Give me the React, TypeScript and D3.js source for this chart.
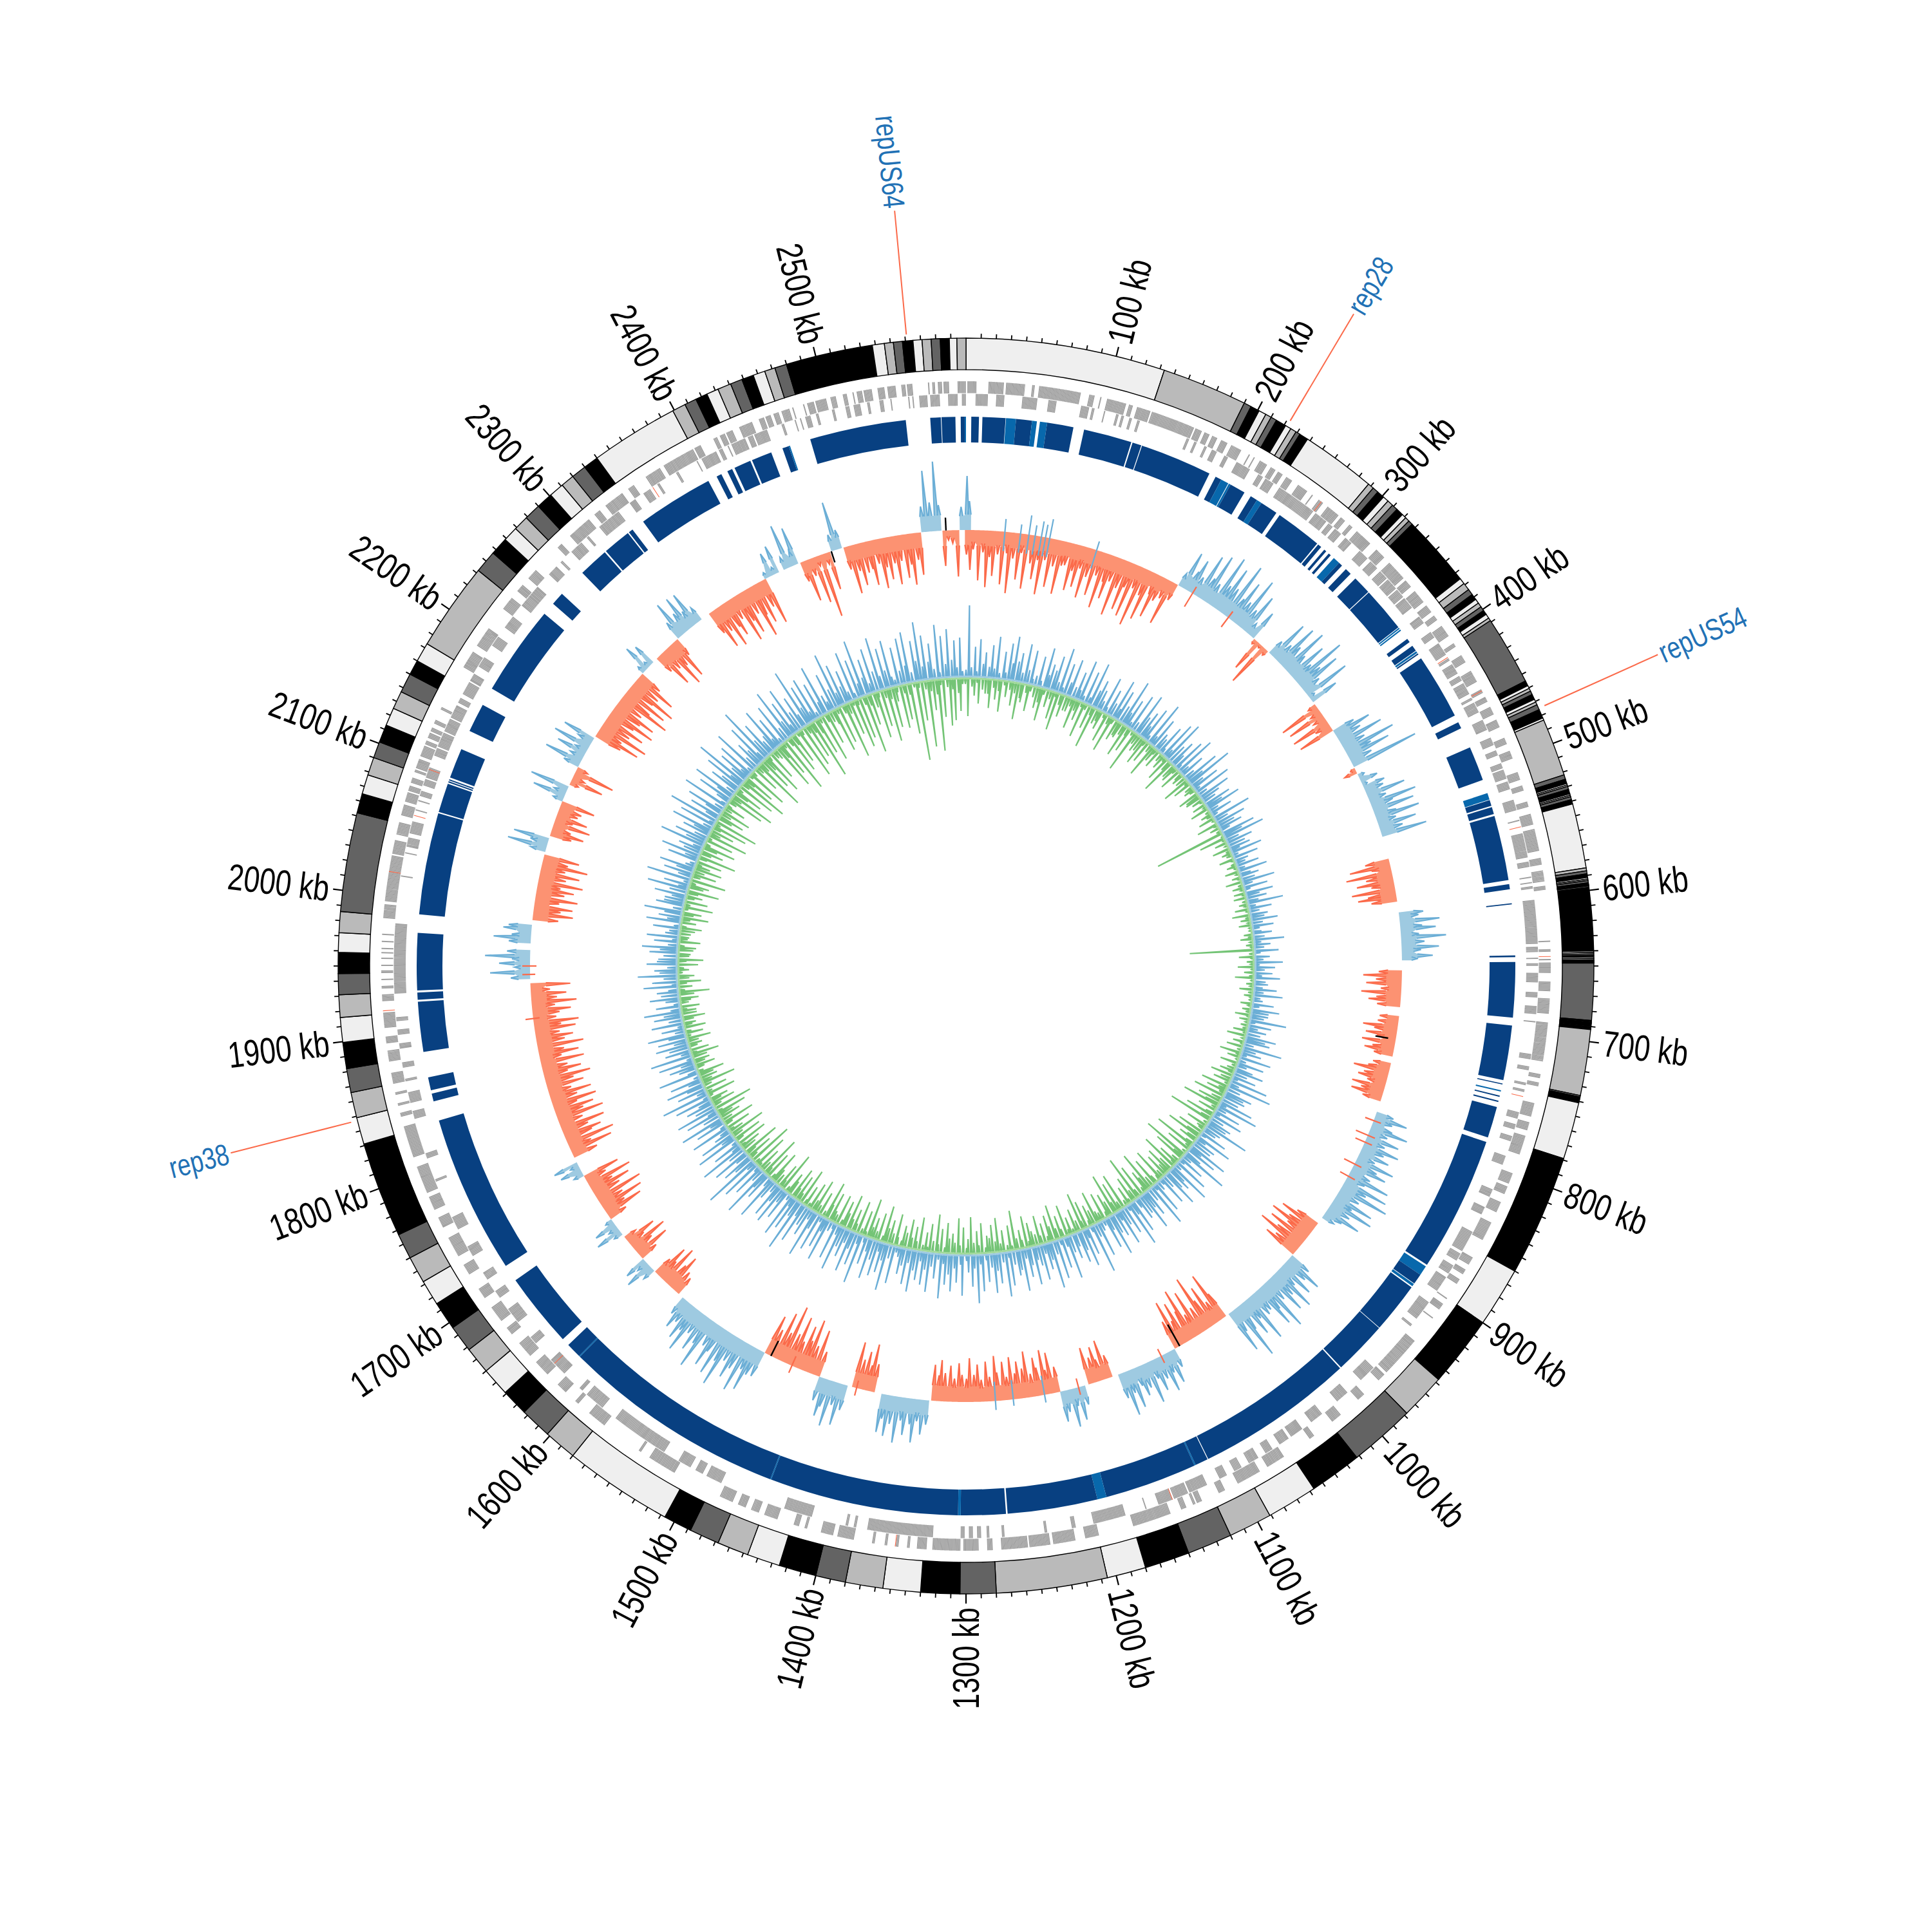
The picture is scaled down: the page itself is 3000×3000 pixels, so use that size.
import React from "react";
import * as d3 from "d3";

const genomeKb = 2600;
const binKb = 4;
const cx = 1500;
const cy = 1500;

const majorLabels = [100, 200, 300, 400, 500, 600, 700, 800, 900, 1000, 1100, 1200, 1300, 1400, 1500, 1600, 1700, 1800, 1900, 2000, 2100, 2200, 2300, 2400, 2500];
const repNames = ["repUS64", "rep28", "repUS54", "rep38"];
const repKb = [2561, 222, 475, 1847];
const contigShades = ["#efefef", "#bababa", "#636363", "#000000"];

// contig starts in kb, the shade cycles every four
const contigStarts = [
  0, 133, 190, 195,
  201, 206, 210, 214,
  221, 225, 229, 232,
  238, 288, 292, 296,
  301, 305, 309, 313,
  318, 321, 324, 327,
  375, 379, 384, 388,
  392, 395, 398, 401,
  404, 407, 409, 455,
  458.5, 460.5, 462.5, 465,
  468.5, 470.5, 472.5, 476,
  482, 483.5, 522, 525,
  528, 529, 530, 532,
  535, 536, 537, 539,
  542, 585, 587, 589,
  591.5, 592.5, 593.5, 595,
  596, 596.5, 597, 598,
  640, 641, 642, 643,
  644, 645, 646, 646.5,
  647, 647.5, 648, 686,
  687, 687.5, 688, 688.5,
  689.5, 690, 690.5, 691,
  691.7, 692, 736, 737,
  738, 738.5, 739, 739.5,
  741, 779, 779.5, 780,
  860, 900, 900.5, 901,
  947, 947.5, 978, 1022,
  1057, 1091, 1120, 1150,
  1180, 1206, 1280, 1304,
  1330, 1355, 1380, 1400,
  1425, 1447, 1468, 1488,
  1507, 1580, 1602, 1623,
  1641, 1660, 1678, 1696,
  1715, 1732, 1750, 1767,
  1831, 1849, 1866, 1882,
  1899.5, 1916, 1931, 1945,
  1959, 1972, 1986, 2052,
  2065, 2078, 2090, 2101,
  2113, 2125, 2137, 2150,
  2160, 2173, 2232, 2247,
  2259, 2269, 2279, 2290,
  2301, 2311, 2320, 2330,
  2340, 2399, 2408, 2416,
  2424, 2432, 2441, 2449,
  2457, 2465, 2472, 2480,
  2538, 2546, 2552, 2558,
  2565, 2571, 2577, 2583,
  2589, 2594,
];

const genesOuter = [
  [1, 7.5], [16, 27], [28.5, 42], [47, 49], [52, 82], [88, 92], [96, 97], [101, 115], [117, 120], [123, 133], [134, 166], [167, 172], [174, 178], [180, 184], [187, 192], [195, 203], [209, 210], [213, 214], [218, 224], [227, 231], [233, 237], [240, 245], [250, 258], [262, 263], [268, 272], [276, 286], [288, 292], [296, 299], [303, 316], [322, 330], [335, 350], [352, 358], [362, 372], [375, 381], [384, 388], [393, 402], [408, 411], [418, 424], [431, 440], [446, 449], [452, 456], [460, 466], [470, 476], [484, 489], [494, 500], [510, 516], [520, 524], [532, 536], [541, 549], [552, 568], [573, 578], [582, 590], [593, 596], [632, 633], [638, 640], [645, 646], [647.5, 655], [661, 668], [673, 684], [690, 718], [727, 730], [733, 736], [748, 758], [762, 768], [772, 786], [800, 808], [810, 816], [822, 830], [838, 852], [866, 872], [876, 880], [884, 888], [900, 901], [905, 910], [917, 918], [938, 968], [970, 976], [990, 996], [1012, 1020], [1036, 1040], [1062, 1076], [1082, 1100], [1110, 1115], [1128, 1132], [1133, 1135], [1140, 1144], [1152, 1180], [1205, 1215], [1222, 1238], [1240, 1255], [1256, 1275], [1281, 1285], [1291, 1302], [1304, 1324], [1328, 1335], [1340, 1342], [1348, 1350], [1356, 1358], [1365, 1367], [1380, 1392], [1395, 1404], [1414, 1416], [1420, 1424], [1436, 1446], [1450, 1456], [1460, 1466], [1470, 1480], [1516, 1537], [1544, 1546], [1576, 1590], [1600, 1603], [1612, 1620], [1630, 1642], [1648, 1660], [1668, 1674], [1680, 1692], [1700, 1708], [1720, 1728], [1735, 1750], [1758, 1766], [1772, 1782], [1785, 1805], [1812, 1835], [1842, 1845], [1850, 1852], [1858, 1860], [1866, 1874], [1882, 1890], [1895, 1900], [1906, 1917], [1925, 1930], [1934, 1936], [1940, 1941], [1945, 1947], [1950, 1951], [1955, 1956], [1959, 1960], [1962, 1963], [1967, 1968], [1972, 1973], [1984, 1994], [1996, 2029], [2030, 2040], [2044, 2053], [2058, 2066], [2068, 2075], [2076, 2080], [2082, 2086], [2090, 2092], [2093, 2100], [2102, 2110], [2111, 2114], [2116, 2120], [2121, 2124], [2127, 2130], [2138, 2140], [2172, 2185], [2190, 2205], [2222, 2232], [2238, 2244], [2250, 2258], [2280, 2284], [2292, 2310], [2315, 2320], [2325, 2340], [2345, 2350], [2360, 2372], [2375, 2399], [2400, 2405], [2415, 2418], [2420, 2424], [2425, 2430], [2435, 2445], [2450, 2454], [2455, 2459], [2461, 2465], [2467, 2473], [2475, 2476], [2483, 2484], [2486, 2491], [2492, 2500], [2503, 2507], [2512, 2515], [2519, 2520], [2522, 2526], [2527, 2533], [2537, 2542], [2544, 2550], [2554, 2557], [2558, 2562], [2573, 2574], [2576, 2578], [2580, 2583], [2584, 2588], [2594, 2600],
];

const genesInner = [
  [7, 16], [22, 28], [41, 52], [60, 66], [84, 90], [92, 94], [101, 102], [110, 112], [114, 116], [120, 122], [126, 128], [164, 166], [170, 172], [178, 180], [184, 188], [194, 197], [204, 215], [222, 226], [228, 235], [240, 252], [252, 262], [262, 270], [272, 282], [284, 288], [290, 296], [300, 306], [314, 322], [325, 332], [335, 342], [343, 352], [353, 360], [361, 370], [378, 384], [392, 397], [402, 412], [415, 417], [420, 428], [430, 434], [436, 445], [448, 450], [452, 460], [466, 474], [480, 486], [490, 494], [500, 504], [505, 512], [514, 520], [528, 536], [543, 544], [553, 571], [574, 578], [585, 586], [589, 590], [592, 594], [602, 634], [636, 640], [644, 645], [648, 650], [655, 662], [669, 673], [679, 685], [690, 691], [714, 718], [723, 726], [735, 737], [740, 742], [757, 762], [766, 770], [775, 779], [790, 797], [816, 822], [830, 836], [850, 866], [868, 874], [878, 885], [888, 900], [910, 925], [930, 932], [972, 985], [998, 1008], [1022, 1032], [1040, 1050], [1052, 1060], [1066, 1072], [1078, 1086], [1092, 1098], [1104, 1110], [1120, 1134], [1135, 1146], [1147, 1158], [1167, 1168], [1183, 1207], [1220, 1223], [1241, 1243], [1272, 1274], [1283, 1285], [1289, 1292], [1295, 1298], [1301, 1304], [1324, 1372], [1380, 1382], [1386, 1388], [1413, 1434], [1483, 1495], [1498, 1504], [1508, 1518], [1530, 1573], [1585, 1600], [1604, 1607], [1622, 1636], [1652, 1658], [1672, 1684], [1694, 1700], [1710, 1716], [1730, 1738], [1752, 1762], [1790, 1792], [1808, 1812], [1838, 1844], [1850, 1858], [1866, 1868], [1876, 1880], [1890, 1894], [1900, 1904], [1910, 1913], [1930, 1981], [2015, 2016], [2032, 2033], [2037, 2044], [2047, 2056], [2064, 2065], [2071, 2072], [2075, 2079], [2083, 2088], [2089, 2097], [2106, 2112], [2113, 2124], [2125, 2135], [2136, 2146], [2148, 2152], [2155, 2165], [2166, 2172], [2178, 2186], [2196, 2204], [2212, 2222], [2232, 2250], [2262, 2270], [2274, 2276], [2285, 2295], [2300, 2302], [2312, 2330], [2340, 2345], [2352, 2358], [2364, 2366], [2380, 2382], [2397, 2398], [2401, 2413], [2415, 2418], [2422, 2423], [2425, 2436], [2438, 2442], [2443, 2453], [2464, 2466], [2474, 2475], [2478, 2479], [2482, 2486], [2490, 2492], [2502, 2504], [2512, 2515], [2518, 2523], [2528, 2530], [2537, 2540], [2545, 2546], [2558, 2559], [2561, 2562], [2566, 2572], [2574, 2577], [2577, 2581], [2587, 2594], [2597, 2600],
];

const redGenesOuter = [270, 447, 643, 1350, 1918, 2017];
const redGenesInner = [414, 548, 745, 1147, 1632, 2060, 2095, 2360];

// start, end, 0 = dark block, 1 = lighter block
const homologyBlocks = [
  [4, 9.8, 0], [12.4, 29.9, 0], [30.2, 37.8, 1], [37.8, 49.9, 0], [49.9, 53.6, 1], [55.9, 61.4, 1], [61.4, 81.5, 0],
  [89.7, 126.5, 0], [127.5, 134.4, 0], [135, 190, 0], [195.2, 200, 0], [200, 206, 1], [206.5, 208, 1], [208, 220, 0],
  [225.5, 231, 0], [231, 235, 1], [235, 248.5, 0], [251.5, 287, 0], [288, 291, 0], [294, 296, 0], [298.5, 300.5, 0],
  [303.6, 309, 1], [309, 312, 0], [316, 321, 0], [326, 340, 0], [340.6, 375, 0], [375.5, 376.5, 1], [377.2, 378.2, 1],
  [386, 389, 0], [392.5, 397, 0], [397.5, 399, 1], [399.5, 400.5, 0], [404, 454, 0], [459.7, 464.8, 0], [480.6, 507, 0],
  [517.5, 522.6, 1], [523, 527.5, 0], [528.6, 534, 0], [535.5, 585, 0], [588, 592, 0], [602.6, 603.4, 0], [642, 643.3, 0],
  [647, 689, 0], [695, 736.6, 0], [739.2, 740, 0], [744.5, 745.5, 1], [748.5, 749.5, 0], [752.5, 753.5, 0], [757.4, 781.4, 0],
  [785, 888, 0], [889.5, 897, 1], [897, 905, 0], [905.5, 907.5, 1], [908.5, 947.4, 0], [947.8, 989, 0], [990, 1111, 0],
  [1111.6, 1121.5, 0], [1121.5, 1122.5, 1], [1122.5, 1193, 0], [1193, 1200, 1], [1200, 1268.6, 0], [1269.8, 1304, 0],
  [1304, 1306, 1], [1306, 1450, 0], [1450, 1450.8, 1], [1450.8, 1622.6, 0], [1622.6, 1623.4, 1], [1623.4, 1635, 0],
  [1641, 1698, 0], [1711, 1832, 0], [1847, 1853, 0], [1855.5, 1865.5, 0], [1885, 1923, 0], [1924.5, 1930, 0], [1931.5, 1975, 0],
  [1989, 2066.6, 0], [2067.6, 2090, 0], [2091, 2092, 0], [2092.6, 2093.6, 0], [2095, 2118, 0], [2133, 2155, 0], [2169, 2238, 0],
  [2248, 2258, 0], [2280, 2303, 0], [2304.2, 2325.6, 0], [2326.6, 2330, 0], [2340, 2398, 0], [2405, 2409, 0], [2414, 2418, 0],
  [2420, 2433, 0], [2434.4, 2450, 0], [2459, 2464, 0], [2464, 2465, 1], [2481, 2554.5, 0], [2573, 2581, 0], [2581.5, 2592, 0],
  [2596, 2599, 0], [2599, 2600, 1],
];

// one value every 4 kb: positive goes outward in blue, negative inward in red, 0 = nothing
const skewValues = [
  -38, -62, -30, -78, -34, -88, -41, -70, -36, -82, -33, -95, -40, -72, -30, -85, -44, -68, -37, -90, -35, -76, -42, -84, -38,
  -36, -74, -42, -66, -35, -80, -45, -72, -38, -88, -44, -70, -40, -92, -46, -78, -40, -85, -36, -95, -42, -80, -34, -70, -40,
  -32, -72, -28, 22, 60, 34, 55, 30, 72, 38, 80, 35, 88, 42, 76, 45, 92, 38, 70, 40, 85, 36, 66, 20, 48,
  -8, -52, -6, -70, -10, 26, 66, 32, 72, 40, 78, 36, 64, 34, 88, 42, 70, 30, 74, 10, 46, -14, -66, -18, -60,
  -20, -62, -25, -58, 36, 60, 40, 72, 38, 84, 42, 70, 36, 108, -8, -20, 10, 28, 8, 35, 30, 62, 28, 74, 35, 66,
  34, 70, 30, 60, 36, 72, 0, 0, 0, 0, 0, -38, -64, -30, -72, -42, -58, -36, -68, -44, -60, -40, 0, 0, 38,
  30, 62, 34, 55, 28, 70, 36, 58, 30, 48, 25, 0, 0, -36, -60, -40, -55, -32, -62, -38, -50, -36, 0, 0, -30,
  -32, -54, -36, -48, -30, -52, -34, -46, -30, 0, -28, -34, -56, -38, -46, -30, -52, -36, -50, -30, 0, 0, 28, 52, 30,
  34, 60, 30, 52, 32, 58, 36, 48, 28, 62, 38, 55, 34, 68, 30, 72, 40, 80, 36, 64, 32, 70, 36, 58, 30,
  20, 0, -38, -62, -44, -72, -40, -66, -48, -76, -42, -56, 36, 62, 40, 58, 34, 72, 42, 66, 38, 84, 44, 70, 36,
  40, 78, 36, 60, 44, 90, 38, 70, -44, -80, -36, -66, -48, -90, -42, -74, -38, -84, -50, -68, -40, -76, -46, 30, 52,
  32, 60, 36, 52, 30, 66, 38, 48, 30, 62, 36, 70, 40, 0, -36, -62, -34, -55, -40, -58, 0, 30, 52, 28, 60,
  34, 48, -40, -64, -38, -70, -44, -60, -36, -72, -46, -58, -40, -66, -36, -60, -44, -70, -38, -62, -34, -58, -42, -68, -36,
  -42, -60, -36, -56, -44, -64, -40, -56, 38, 54, 34, 68, 40, 58, 36, 72, 44, 64, 38, 60, 0, -44, -74, -40, -60,
  -46, -72, 0, 40, 66, 36, 72, 44, 60, 38, -40, -72, -44, -84, -48, -70, -42, -80, -50, -92, -46, -76, -44, -64, 42,
  44, 72, 40, 80, 48, 66, 42, 88, 50, 76, 44, 70, 40, 84, 46, 62, 38, 74, 42, 60, 36, 50, 30, 0, -30,
  -36, -58, -40, -64, -34, -56, -30, 20, 44, 18, 36, -30, -56, -34, -62, -28, -50, -20, 14, 42, 16, 36, 12, -30, -62,
  -36, -70, -40, -76, -44, -64, -38, -72, -34, -58, 16, 34, 14, 40, 0, -40, -68, -36, -76, -44, -60, -42, -70, -38, -74,
  -44, -62, -38, -70, -42, -66, -36, -58, -44, -72, -38, -60, -40, -68, -34, -62, -40, -72, -44, -58, -38, -64, -42, -70, -36,
  -42, -60, -36, -70, -40, -55, -30, -62, 0, 30, 62, 24, 48, 28, 70, 36, 0, 34, 58, 30, 44, 36, 0, -40, -62,
  -42, -60, -38, -66, -44, -58, -36, -70, -42, -62, -38, -72, -40, -56, 24, 62, 28, 56, -34, -52, -30, -58, -28, -50, -32,
  -36, -54, 16, 52, 20, 62, -14, -52, -20, -64, -18, 26, 60, 22, 48, 20, 60, 24, 52, -44, -72, -40, -80, -46, -66,
  -44, -76, -48, -70, -42, -84, -50, -72, -44, -80, -46, -68, -38, 12, 44, 10, 36, 0, -30, -60, -36, -72, -40, -66, -30,
  30, 60, 34, 58, 28, 56, 24, 0, 0, -38, -66, -42, -72, -44, -60, -36, -78, -48, -70, -42, -84, -50, -66, -44, -74,
  10, 38, 12, 45, 0, 20, 70, 24, 60, -32, -66, -28, -74, -16, -100, -18, -60, 26, 76, 30, -36, -76, -42, -66, -48,
  -44, -70, -38, -78, -46, -66, -42, -76, -40, -68, -48, -80, -42, -66, 40, 95, 45, 108, 40, -55, -15, -20, -72, 36, 84,
  45,
];

// stray spikes of the other colour: kb, reach past the base
const strayBlueKb = [37, 52, 60, 66, 72, 76, 80, 126, 1225, 1255, 1272];
const strayBlueReach = [20, 14, 30, 16, 24, 20, 30, 14, 12, 10, 14];
const strayRedKb = [226, 267, 800, 815, 822, 845, 858, 1108, 1192, 1405, 1470, 1900, 1942, 1950];
const strayRedReach = [24, 18, 14, 20, 16, 18, 14, 12, 14, 12, 16, 10, 8, 10];
const blackSpikeKb = [720, 1088, 1492, 2470, 2581];
const blackSpikeFrom = [-12, 0, 0, 0, 0];
const blackSpikeTo = [-32, -38, -26, -18, 20];

const blueValues = [
  12, 112, 16, 48, 10, 60, 22, 40, 18, 52, 16, 66, 10, 44, 12, 58, 28, 70, 32, 46, 16, 62, 22, 54, 10,
  16, 48, 10, 64, 22, 40, 32, 56, 16, 72, 10, 50, 22, 60, 18, 44, 16, 66, 10, 52, 12, 70, 28, 46, 32,
  16, 58, 10, 42, 22, 64, 18, 50, 28, 74, 22, 46, 10, 60, 16, 68, 32, 44, 22, 56, 10, 72, 16, 50, 28,
  22, 48, 10, 62, 16, 70, 32, 44, 22, 54, 10, 66, 16, 40, 18, 58, 28, 76, 22, 46, 10, 60, 16, 52, 32,
  22, 44, 28, 56, 16, 36, 10, 62, 22, 48, 28, 38, 16, 54, 32, 66, 22, 42, 28, 34, 16, 50, 10, 40, 22,
  16, 36, 12, 46, 18, 30, 22, 52, 16, 38, 10, 44, 22, 32, 18, 56, 12, 36, 16, 28, 22, 42, 18, 34, 12,
  14, 30, 18, 48, 12, 26, 16, 38, 10, 24, 14, 44, 8, 32, 16, 28, 12, 40, 18, 22, 14, 36, 16, 46, 12,
  16, 34, 12, 44, 28, 28, 22, 58, 10, 36, 16, 30, 22, 48, 32, 40, 16, 62, 22, 32, 10, 50, 12, 42, 16,
  28, 46, 22, 38, 10, 60, 16, 70, 22, 44, 32, 36, 28, 54, 12, 66, 16, 42, 10, 50, 22, 38, 32, 72, 28,
  22, 44, 10, 58, 16, 36, 32, 64, 22, 50, 28, 76, 16, 42, 10, 56, 12, 68, 28, 40, 32, 60, 22, 48, 10,
  16, 52, 10, 70, 22, 44, 28, 62, 32, 38, 16, 54, 22, 72, 10, 46, 28, 58, 16, 40, 32, 66, 22, 50, 10,
  16, 56, 22, 78, 10, 44, 16, 60, 32, 50, 22, 40, 28, 68, 16, 48, 10, 62, 22, 74, 28, 42, 16, 56, 32,
  22, 60, 28, 46, 16, 66, 32, 40, 22, 54, 10, 70, 16, 48, 28, 62, 22, 44, 10, 58, 16, 76, 22, 50, 28,
  10, 64, 16, 44, 22, 58, 32, 48, 16, 70, 10, 40, 22, 62, 28, 52, 16, 46, 32, 66, 22, 56, 28, 42, 16,
  10, 60, 22, 74, 28, 48, 16, 56, 32, 64, 22, 44, 10, 78, 16, 52, 28, 66, 22, 46, 32, 72, 16, 58, 10,
  16, 68, 22, 50, 10, 60, 28, 76, 16, 46, 32, 64, 22, 84, 28, 54, 16, 70, 10, 48, 22, 62, 28, 56, 16,
  32, 72, 16, 44, 28, 80, 22, 52, 10, 66, 16, 90, 32, 50, 22, 60, 28, 74, 16, 46, 10, 68, 22, 56, 28,
  16, 62, 10, 48, 22, 70, 28, 54, 16, 66, 32, 44, 22, 58, 10, 76, 16, 46, 28, 60, 22, 50, 10, 64, 16,
  28, 42, 22, 56, 10, 66, 16, 40, 32, 52, 22, 46, 28, 60, 16, 36, 10, 50, 22, 44, 28, 58, 16, 38, 10,
  22, 46, 28, 34, 16, 54, 10, 40, 22, 62, 28, 36, 16, 48, 32, 30, 22, 44, 28, 56, 16, 38, 10, 50, 22,
  16, 42, 10, 54, 22, 36, 28, 60, 16, 44, 32, 32, 22, 50, 28, 64, 16, 40, 10, 70, 22, 46, 28, 56, 16,
  10, 48, 22, 62, 28, 38, 16, 72, 32, 52, 22, 44, 28, 66, 16, 58, 10, 80, 22, 50, 28, 60, 16, 74, 10,
  22, 56, 28, 70, 16, 48, 32, 64, 22, 86, 28, 52, 16, 60, 10, 76, 22, 44, 28, 68, 16, 92, 32, 58, 22,
  28, 72, 16, 50, 10, 66, 22, 84, 28, 58, 16, 76, 32, 54, 22, 94, 28, 62, 16, 70, 10, 56, 22, 80, 28,
  16, 60, 32, 88, 22, 66, 28, 52, 16, 78, 10, 62, 22, 90, 28, 56, 16, 70, 32, 84, 22, 64, 28, 74, 16,
  10, 60, 22, 72, 28, 80, 16, 64, 32, 92, 22, 70, 28, 56, 16, 84, 10, 66, 22, 76, 28, 58, 16, 62, 10,
  12,
];

const greenValues = [
  10, 60, 14, 28, 8, 40, 18, 24, 24, 46, 14, 32, 18, 50, 8, 26, 14, 38, 18, 58, 24, 30, 14, 42, 10,
  18, 34, 24, 52, 10, 28, 14, 44, 8, 60, 18, 36, 24, 24, 14, 48, 18, 32, 8, 56, 10, 38, 14, 66, 24,
  18, 30, 8, 46, 14, 58, 10, 34, 24, 26, 18, 52, 14, 40, 8, 68, 18, 28, 24, 44, 10, 36, 14, 54, 24,
  10, 30, 14, 24, 8, 40, 18, 56, 24, 28, 10, 36, 14, 20, 18, 44, 8, 30, 14, 18, 10, 34, 24, 26, 18,
  5, 22, 6, 30, 8, 18, 10, 26, 5, 34, 6, 16, 8, 112, 4, 42, 5, 20, 6, 28, 8, 16, 10, 24, 5,
  8, 16, 5, 22, 6, 14, 5, 26, 8, 18, 6, 18, 5, 20, 8, 14, 6, 22, 5, 28, 8, 16, 6, 20, 5,
  5, 14, 8, 20, 6, 12, 5, 100, 8, 24, 5, 12, 6, 26, 5, 16, 8, 30, 5, 12, 6, 22, 8, 14, 5,
  5, 18, 6, 14, 8, 24, 5, 16, 6, 12, 8, 22, 5, 30, 6, 18, 5, 26, 8, 34, 6, 20, 5, 28, 8,
  14, 24, 10, 36, 18, 28, 8, 44, 14, 32, 10, 50, 18, 38, 24, 60, 10, 30, 14, 46, 18, 70, 8, 34, 14,
  10, 42, 24, 56, 18, 30, 14, 66, 10, 40, 8, 74, 18, 50, 14, 34, 10, 60, 24, 44, 18, 38, 14, 54, 10,
  14, 46, 18, 64, 24, 36, 10, 52, 14, 72, 18, 42, 8, 30, 10, 58, 14, 48, 18, 66, 24, 38, 10, 44, 14,
  18, 52, 24, 34, 10, 44, 14, 60, 18, 38, 8, 28, 10, 50, 14, 36, 18, 56, 24, 42, 10, 32, 14, 46, 18,
  24, 38, 10, 50, 14, 30, 18, 62, 8, 40, 10, 34, 14, 54, 18, 44, 24, 28, 10, 48, 14, 36, 18, 58, 24,
  10, 42, 14, 56, 18, 32, 24, 48, 10, 38, 14, 60, 18, 44, 8, 30, 10, 52, 14, 36, 18, 46, 24, 34, 10,
  14, 50, 18, 38, 24, 58, 10, 44, 14, 34, 18, 62, 8, 40, 10, 52, 14, 36, 18, 56, 24, 42, 10, 48, 14,
  18, 46, 24, 60, 10, 38, 14, 54, 18, 44, 8, 34, 10, 58, 14, 42, 18, 50, 24, 36, 10, 64, 14, 40, 18,
  24, 52, 10, 44, 14, 66, 18, 38, 8, 56, 10, 72, 14, 42, 18, 60, 24, 34, 10, 50, 14, 46, 18, 58, 24,
  10, 40, 14, 52, 18, 34, 24, 48, 10, 62, 14, 38, 18, 30, 8, 46, 10, 36, 14, 54, 18, 28, 24, 42, 10,
  14, 32, 18, 26, 24, 44, 10, 30, 14, 22, 18, 38, 8, 28, 10, 34, 14, 20, 18, 36, 24, 24, 10, 30, 14,
  18, 30, 24, 48, 10, 22, 14, 36, 18, 26, 8, 18, 10, 32, 14, 40, 18, 20, 24, 28, 10, 34, 14, 16, 18,
  24, 34, 10, 24, 14, 42, 18, 30, 8, 46, 10, 36, 14, 26, 18, 50, 24, 32, 10, 56, 14, 38, 18, 44, 24,
  10, 40, 14, 60, 18, 36, 24, 52, 10, 44, 8, 64, 18, 38, 14, 56, 10, 70, 24, 42, 18, 48, 14, 34, 10,
  14, 58, 18, 72, 24, 46, 10, 62, 14, 78, 18, 50, 8, 66, 10, 44, 14, 84, 18, 54, 24, 68, 10, 48, 14,
  18, 74, 24, 56, 10, 90, 14, 62, 18, 50, 8, 82, 10, 68, 14, 58, 18, 96, 24, 60, 10, 76, 14, 52, 18,
  24, 70, 10, 60, 14, 88, 18, 54, 8, 78, 10, 66, 14, 92, 18, 50, 24, 74, 10, 58, 14, 84, 18, 64, 24,
  10, 68, 14, 56, 18, 80, 8, 123, 10, 62, 14, 104, 18, 48, 24, 112, 10, 60, 14, 74, 18, 66, 24, 52, 10,
  10,
];

type Vertex = { kb: number; v: number; spike: boolean };

// peaks are not perfectly evenly spaced in the picture
const nudge = (v: number) => ((Math.abs(v) % 5) - 2) * 0.45;

// every bin is its own spike rising from a floor
const binSpikes = (vals: number[], halfWidth: number, floorOf: (v: number) => number): Vertex[] =>
  vals.flatMap((v, i) => {
    const k = i * binKb + nudge(v);
    const f = floorOf(v);
    return [
      { kb: k - halfWidth, v: f, spike: true },
      { kb: k, v, spike: true },
      { kb: k + halfWidth, v: f, spike: true },
      { kb: k + halfWidth + 0.1, v: f, spike: false },
    ];
  });

const angle = d3.scaleLinear().domain([0, genomeKb]).range([0, 2 * Math.PI]);
const toDeg = (kb: number) => (angle(kb) * 180) / Math.PI;
const labelFont = "'Liberation Sans', Arial, sans-serif";

const ring = d3.arc<number[]>();
const band = (start: number, end: number, inner: number, outer: number) =>
  ring({ startAngle: angle(start), endAngle: angle(end), innerRadius: inner, outerRadius: outer } as any) as string;
const geneBars = (a: number, b: number, inner: number, outer: number) =>
  d3.range(a, b, 1).map((s) => band(s, Math.min(s + 0.88, b), inner, outer)).join("");

// skew track, base at r 677; the pale fill reaches about 24 px
const skewBase = 677;
const rSkew = d3.scaleLinear().domain([-120, 120]).range([skewBase - 120, skewBase + 120]);
const skewFloor = (v: number) => Math.sign(v) * Math.min(Math.abs(v) * 0.6, 24);
const skewVerts = binSpikes(skewValues, 1.5, skewFloor);
const skewArea = (keep: (v: number) => boolean) =>
  d3.areaRadial<Vertex>().angle((d) => angle(d.kb)).innerRadius(skewBase).outerRadius((d) => rSkew(d.v)).defined((d) => keep(d.v))(skewVerts) as string;
const skewLine = (keep: (v: number) => boolean) =>
  d3.lineRadial<Vertex>().angle((d) => angle(d.kb)).radius((d) => rSkew(d.v)).defined((d) => d.spike && keep(d.v))(skewVerts) as string;

// innermost pair, base at r 448
const innerBase = 448;
const rUp = d3.scaleLinear().domain([0, 120]).range([innerBase, innerBase + 120]);
const rDown = d3.scaleLinear().domain([0, 120]).range([innerBase, innerBase - 120]);
const innerFloor = () => 3;
const innerArea = (vals: number[], r: d3.ScaleLinear<number, number>) =>
  d3.areaRadial<Vertex>().angle((d) => angle(d.kb)).innerRadius(innerBase).outerRadius((d) => r(d.v))(binSpikes(vals, 1, innerFloor)) as string;
const innerLine = (vals: number[], r: d3.ScaleLinear<number, number>) =>
  d3.lineRadial<Vertex>().angle((d) => angle(d.kb)).radius((d) => r(d.v)).defined((d) => d.spike)(binSpikes(vals, 1, innerFloor)) as string;

const tickKb = d3.range(10, genomeKb, 10);
const spikeLine = (kb: number, from: number, to: number) =>
  d3.lineRadial<number>().angle(angle(kb)).radius((d) => d)([from, to]) as string;

export default function App() {
  const flipped = (kb: number) => kb >= genomeKb / 2;
  return (
    <svg width={3000} height={3000} style={{ position: "absolute", left: 0, top: 0, background: "#fff" }}>
      <g transform={`translate(${cx},${cy})`}>
        {/* contigs */}
        {contigStarts.map((s, i) => (
          <path
            key={i}
            d={band(s, i + 1 < contigStarts.length ? contigStarts[i + 1] : genomeKb, 926, 975)}
            fill={contigShades[i % 4]}
            stroke="#000"
            strokeWidth={1.4}
          />
        ))}
        {/* ticks */}
        {tickKb.map((kb) => {
          const major = kb % 100 === 0;
          return (
            <line
              key={kb}
              transform={`rotate(${toDeg(kb) - 90})`}
              x1={975}
              x2={major ? 990 : 982}
              stroke="#000"
              strokeWidth={major ? 2.2 : 1.8}
            />
          );
        })}
        {majorLabels.map((kb) => (
          <text
            key={kb}
            transform={`rotate(${toDeg(kb) - 90}) translate(996,0)${flipped(kb) ? " rotate(180)" : ""} scale(0.78,1)`}
            textAnchor={flipped(kb) ? "end" : "start"}
            dominantBaseline="central"
            fontFamily={labelFont}
            fontSize={57}
            fill="#000"
          >
            {kb} kb
          </text>
        ))}
        {/* genes */}
        {genesOuter.map(([a, b], i) => (
          <path key={i} d={geneBars(a, b, 889.5, 908)} fill="#9f9f9f" />
        ))}
        {genesInner.map(([a, b], i) => (
          <path key={i} d={geneBars(a, b, 870, 888.5)} fill="#9f9f9f" />
        ))}
        {redGenesOuter.map((kb) => (
          <path key={kb} d={band(kb, kb + 0.5, 889.5, 908)} fill="#fb6a4a" />
        ))}
        {redGenesInner.map((kb) => (
          <path key={kb} d={band(kb, kb + 0.5, 870, 888.5)} fill="#fb6a4a" />
        ))}
        {/* homology blocks */}
        {homologyBlocks.map(([a, b, shade], i) => (
          <path key={i} d={band(a, b, 813, 853)} fill={shade ? "#0868ac" : "#084081"} />
        ))}
        {/* skew */}
        <path d={skewArea((v) => v < 0)} fill="#fc9272" />
        <path d={skewLine((v) => v < 0)} fill="none" stroke="#fb6a4a" strokeWidth={2.2} />
        <path d={skewArea((v) => v > 0)} fill="#9ecae1" />
        <path d={skewLine((v) => v > 0)} fill="none" stroke="#6baed6" strokeWidth={2.2} />
        {strayBlueKb.map((kb, i) => (
          <path key={kb} d={spikeLine(kb, rSkew(-30), rSkew(strayBlueReach[i]))} fill="none" stroke="#6baed6" strokeWidth={2.2} />
        ))}
        {strayRedKb.map((kb, i) => (
          <path key={kb} d={spikeLine(kb, rSkew(12), rSkew(-strayRedReach[i]))} fill="none" stroke="#fb6a4a" strokeWidth={2.2} />
        ))}
        {blackSpikeKb.map((kb, i) => (
          <path key={kb} d={spikeLine(kb, rSkew(blackSpikeFrom[i]), rSkew(blackSpikeTo[i]))} fill="none" stroke="#000" strokeWidth={2.4} />
        ))}
        {/* inner pair */}
        <path d={innerArea(blueValues, rUp)} fill="#9ecae1" />
        <path d={innerLine(blueValues, rUp)} fill="none" stroke="#6baed6" strokeWidth={2.2} />
        <path d={innerArea(greenValues, rDown)} fill="#a1d99b" />
        <path d={innerLine(greenValues, rDown)} fill="none" stroke="#74c476" strokeWidth={2.2} />
        {/* replicons */}
        {repNames.map((name, i) => {
          const kb = repKb[i];
          const flip = flipped(kb);
          return (
            <g key={name} transform={`rotate(${toDeg(kb) - 90})`}>
              <line x1={985} x2={1178} stroke="#fb6a4a" strokeWidth={2} />
              <text
                transform={`translate(1182,0)${flip ? " rotate(180)" : ""} scale(0.78,1)`}
                textAnchor={flip ? "end" : "start"}
                dominantBaseline="central"
                fontFamily={labelFont}
                fontSize={47}
                fill="#2171b5"
              >
                {name}
              </text>
            </g>
          );
        })}
      </g>
    </svg>
  );
}
